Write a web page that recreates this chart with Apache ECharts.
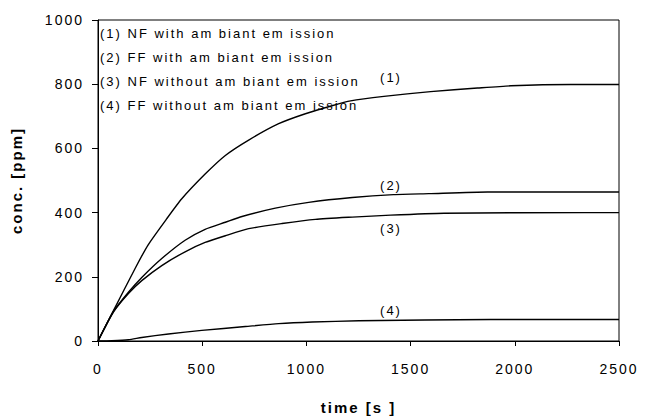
<!DOCTYPE html>
<html>
<head>
<meta charset="utf-8">
<script src="https://cdn.jsdelivr.net/npm/echarts@6/dist/echarts.min.js"></script>
<style>
    html, body { margin: 0; padding: 0; background: #fff; }
    #chart { width: 657px; height: 420px; }
    /* the original chart has widely spaced lettering */
    #chart text { letter-spacing: 2px; }
</style>
</head>
<body>
<div id="chart"></div>
<script>
// time [s] / concentration [ppm]
const t1 = [0, 73, 178, 240, 330, 402, 514, 611, 723, 867, 995, 1123, 1212, 1372, 1596, 1821, 1981, 2269, 2500];
const c1 = [0, 93, 226, 299, 381, 443, 520, 578, 626, 677, 708, 733, 748, 762, 777, 788, 795, 799, 799];

const t2 = [0, 74, 146, 210, 306, 418, 514, 611, 691, 851, 1011, 1220, 1418, 1587, 1869, 2500];
const c2 = [0, 92, 152, 198, 257, 314, 348, 370, 388, 414, 432, 447, 456, 459, 464, 464];

const t3 = [0, 74, 146, 210, 306, 418, 514, 611, 723, 883, 1043, 1220, 1404, 1660, 2333, 2500];
const c3 = [0, 90, 148, 188, 235, 278, 307, 328, 350, 366, 379, 386, 392, 398, 400, 400];

const t4 = [0, 66, 146, 210, 338, 498, 707, 867, 1027, 1252, 1885, 2500];
const c4 = [0, 1, 4, 11, 22, 33, 45, 54, 59, 63, 67, 67];

const legendLines = [
    '(1) NF with am biant em ission',
    '(2) FF with am biant em ission',
    '(3) NF without am biant em ission',
    '(4) FF without am biant em ission',
];
const curveTags = ['(1)', '(2)', '(3)', '(4)'];

const zip = (ts, cs) => ts.map((t, i) => [t, cs[i]]);

const chart = echarts.init(document.getElementById('chart'), null, { renderer: 'svg' });

const font = '"Liberation Sans", Arial, sans-serif';
const lineStyle = { color: '#000', width: 1.4 };

function curve(ts, cs) {
    return {
        type: 'line',
        data: zip(ts, cs),
        symbol: 'none',
        smooth: 0.2,
        lineStyle: lineStyle,
        animation: false,
    };
}

// text positions (legend block and curve tags)
const legendY = [33, 57, 81, 105];
const tagY = [77, 185, 228, 310];

const graphics = [];
legendLines.forEach((txt, i) => {
    graphics.push({
        type: 'text', x: 100, y: legendY[i],
        style: { text: txt, fill: '#000', font: '13px ' + font, textVerticalAlign: 'middle' },
    });
});
curveTags.forEach((txt, i) => {
    graphics.push({
        type: 'text', x: 391, y: tagY[i],
        style: { text: txt, fill: '#000', font: '13px ' + font, textAlign: 'center', textVerticalAlign: 'middle' },
    });
});

const option = {
    backgroundColor: '#fff',
    animation: false,
    grid: {
        left: 98,
        right: 38,
        top: 20,
        bottom: 77,
        show: true,
        borderColor: '#000',
        borderWidth: 1,
    },
    xAxis: {
        type: 'value',
        min: 0,
        max: 2500,
        interval: 500,
        name: 'time [s ]',
        nameLocation: 'middle',
        nameGap: 59,
        nameTextStyle: { color: '#000', fontSize: 15, fontWeight: 'bold', fontFamily: font },
        axisLine: { lineStyle: { color: '#000', width: 1 } },
        axisTick: { length: 5, lineStyle: { color: '#000' } },
        axisLabel: { color: '#000', fontSize: 14, fontFamily: font, margin: 21, formatter: (v) => String(v) },
        splitLine: { show: false },
    },
    yAxis: {
        type: 'value',
        min: 0,
        max: 1000,
        interval: 200,
        name: 'conc. [ppm]',
        nameLocation: 'middle',
        nameGap: 74,
        nameTextStyle: { color: '#000', fontSize: 15, fontWeight: 'bold', fontFamily: font },
        axisLine: { show: true, lineStyle: { color: '#000', width: 1 } },
        axisTick: { show: true, length: 6, lineStyle: { color: '#000' } },
        axisLabel: { color: '#000', fontSize: 14, fontFamily: font, margin: 14, formatter: (v) => String(v) },
        splitLine: { show: false },
    },
    series: [curve(t1, c1), curve(t2, c2), curve(t3, c3), curve(t4, c4)],
    graphic: graphics,
};

chart.setOption(option);
</script>
</body>
</html>
